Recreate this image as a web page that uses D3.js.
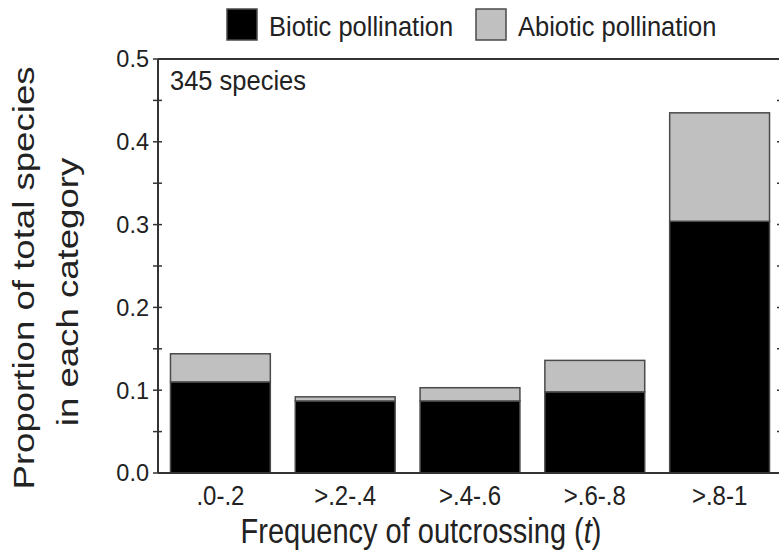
<!DOCTYPE html>
<html>
<head>
<meta charset="utf-8">
<script src="https://cdn.jsdelivr.net/npm/d3@7"></script>
<style>
	body { margin: 0; background: #fff; }
	svg { display: block; font-family: "Liberation Sans", Arial, sans-serif; }
</style>
</head>
<body>
<svg id="chart"></svg>
<script>
const width = 779;
const height = 554;

// chart values
const categories = [".0-.2", ">.2-.4", ">.4-.6", ">.6-.8", ">.8-1"];
const bioticValues = [0.110, 0.087, 0.087, 0.098, 0.304];
const abioticValues = [0.034, 0.005, 0.016, 0.038, 0.131];
const seriesNames = ["Biotic pollination", "Abiotic pollination"];
const seriesColors = ["#000000", "#c0c0c0"];
const yTicks = [0, 0.1, 0.2, 0.3, 0.4, 0.5];
const yMinorTicks = [0.05, 0.15, 0.25, 0.35, 0.45];

const margin = { top: 59, right: -3, bottom: 81, left: 158 };
const x0 = margin.left;
const x1 = width - margin.right;
const y0 = height - margin.bottom;
const y1 = margin.top;

// the source image is a bit stretched vertically, text follows that
const stretch = 1.15;

const svg = d3.select("#chart").attr("width", width).attr("height", height);

const rows = categories.map((c, i) => ({ cat: c, biotic: bioticValues[i], abiotic: abioticValues[i] }));
const stacked = d3.stack().keys(["biotic", "abiotic"])(rows);

const x = d3.scaleBand().domain(categories).range([x0, x1]).paddingInner(0.2).paddingOuter(0.1);
const y = d3.scaleLinear().domain([0, 0.5]).range([y0, y1]);

// bars
svg.append("g")
	.selectAll("g")
	.data(stacked)
	.join("g")
	.attr("fill", (d, i) => seriesColors[i])
	.selectAll("rect")
	.data((d) => d)
	.join("rect")
	.attr("x", (d) => x(d.data.cat))
	.attr("width", x.bandwidth())
	.attr("y", (d) => y(d[1]))
	.attr("height", (d) => y(d[0]) - y(d[1]))
	.attr("stroke", "#4a4a4a")
	.attr("stroke-width", 1.5);

// frame: top line
svg.append("line")
	.attr("x1", x0).attr("x2", x1)
	.attr("y1", y1).attr("y2", y1)
	.attr("stroke", "#333").attr("stroke-width", 2);

// left axis, ticks crossing the line
const allTicks = yTicks.concat(yMinorTicks);
const leftAxis = svg.append("g").attr("transform", `translate(${x0},0)`);
leftAxis.append("line").attr("y1", y1).attr("y2", y0).attr("stroke", "#333").attr("stroke-width", 2);
leftAxis.selectAll("line.tick")
	.data(allTicks)
	.join("line")
	.attr("class", "tick")
	.attr("x1", -5).attr("x2", 4)
	.attr("y1", (d) => y(d)).attr("y2", (d) => y(d))
	.attr("stroke", "#333").attr("stroke-width", 1.5);
leftAxis.selectAll("text")
	.data(yTicks)
	.join("text")
	.attr("x", -9)
	.attr("y", (d) => y(d))
	.attr("dy", "0.36em")
	.attr("text-anchor", "end")
	.attr("font-size", 23.5)
	.attr("fill", "#222")
	.text((d) => d.toFixed(1));

// right axis (mostly off the edge)
const rightAxis = svg.append("g").attr("transform", `translate(${x1},0)`);
rightAxis.append("line").attr("y1", y1).attr("y2", y0).attr("stroke", "#333").attr("stroke-width", 2);
rightAxis.selectAll("line.tick")
	.data(allTicks)
	.join("line")
	.attr("class", "tick")
	.attr("x1", -5).attr("x2", 4)
	.attr("y1", (d) => y(d)).attr("y2", (d) => y(d))
	.attr("stroke", "#333").attr("stroke-width", 1.5);

// bottom axis
const bottomAxis = svg.append("g").attr("transform", `translate(0,${y0})`);
bottomAxis.append("line").attr("x1", x0).attr("x2", x1).attr("stroke", "#333").attr("stroke-width", 2);
bottomAxis.selectAll("text")
	.data(categories)
	.join("text")
	.attr("transform", (d) => `translate(${x(d) + x.bandwidth() / 2},32) scale(1,${stretch})`)
	.attr("text-anchor", "middle")
	.attr("font-size", 24)
	.attr("fill", "#222")
	.text((d) => d);

// axis titles
const xTitle = svg.append("text")
	.attr("transform", `translate(421,543) scale(1,1.18)`)
	.attr("text-anchor", "middle")
	.attr("font-size", 29)
	.attr("fill", "#222");
xTitle.append("tspan").text("Frequency of outcrossing (");
xTitle.append("tspan").attr("font-style", "italic").text("t");
xTitle.append("tspan").text(")");

const yTitleLines = ["Proportion of total species", "in each category"];
const yTitleBase = [34, 78];
svg.append("g")
	.selectAll("text")
	.data(yTitleLines)
	.join("text")
	.attr("transform", (d, i) => `translate(${yTitleBase[i]},${i ? 292 : 278}) rotate(-90) scale(1.22,1)`)
	.attr("text-anchor", "middle")
	.attr("font-size", 30)
	.attr("fill", "#222")
	.text((d) => d);

// annotation
svg.append("text")
	.attr("transform", `translate(170,90) scale(1,1.08)`)
	.attr("font-size", 25.5)
	.attr("fill", "#222")
	.text("345 species");

// legend
const legendX = [227, 476];
const legend = svg.append("g")
	.selectAll("g")
	.data(seriesNames)
	.join("g")
	.attr("transform", (d, i) => `translate(${legendX[i]},9)`);
legend.append("rect")
	.attr("width", 30).attr("height", 31)
	.attr("fill", (d, i) => seriesColors[i])
	.attr("stroke", "#4a4a4a").attr("stroke-width", 1.5);
legend.append("text")
	.attr("transform", "translate(42,27) scale(1,1.1)")
	.attr("font-size", 25.5)
	.attr("fill", "#222")
	.text((d) => d);
</script>
</body>
</html>
